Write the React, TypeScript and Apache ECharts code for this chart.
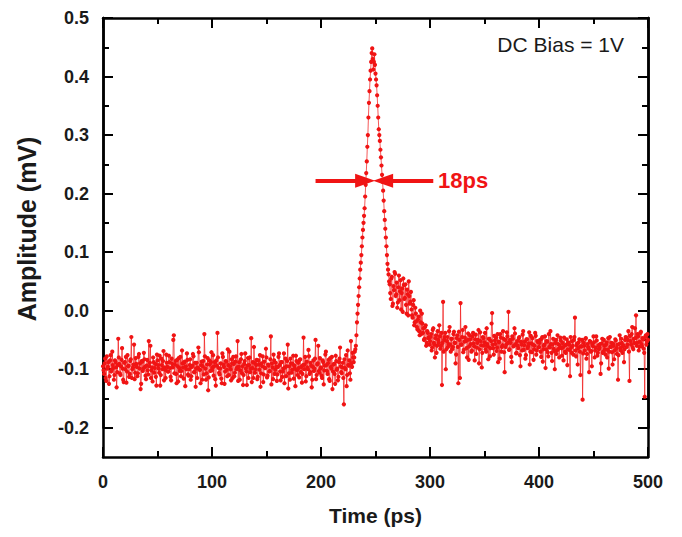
import React, { useEffect, useRef } from "react";
import * as echarts from "echarts";

// Sampling step of the recorded trace (ps): samples on whole ps and on half ps.
const TIME_STEP_PS = 1;
const HALF_STEP_PS = 0.5;

// Amplitude at whole-ps samples (0..500 ps), in units of 0.001 mV
const amplitudeWhole: number[] = [
  // 0-19
  -95, -108, -82, -120, -99, -88, -112, -76, -101, -93, -118, -85, -97, -105, -48, -91, -110, -84, -99, -122,
  // 20-39
  -88, -79, -104, -95, -113, -86, -45, -100, -92, -117, -81, -96, -107, -74, -90, -125, -87, -99, -83, -111,
  // 40-59
  -94, -102, -52, -89, -115, -97, -80, -106, -91, -128, -85, -99, -77, -110, -93, -86, -119, -101, -75, -96,
  // 60-79
  -104, -88, -113, -82, -97, -42, -92, -108, -84, -121, -98, -79, -103, -90, -116, -87, -95, -73, -109, -100,
  // 80-99
  -83, -112, -94, -78, -105, -130, -89, -97, -71, -101, -93, -118, -86, -40, -99, -107, -81, -114, -92, -88,
  // 100-119
  -102, -76, -95, -117, -85, -38, -98, -109, -90, -124, -79, -96, -104, -87, -112, -93, -70, -100, -83, -115,
  // 120-139
  -91, -106, -78, -97, -120, -88, -102, -74, -95, -110, -86, -99, -127, -81, -93, -105, -47, -98, -115, -89,
  // 140-159
  -100, -84, -113, -92, -76, -107, -95, -122, -87, -98, -80, -111, -94, -103, -44, -90, -117, -85, -101, -96,
  // 160-179
  -109, -79, -93, -119, -88, -104, -73, -97, -112, -86, -133, -95, -82, -106, -91, -116, -99, -77, -102, -89,
  // 180-199
  -114, -83, -96, -108, -46, -92, -121, -87, -100, -78, -105, -94, -118, -85, -99, -50, -110, -90, -103, -81,
  // 200-219
  -97, -115, -88, -102, -75, -93, -108, -84, -120, -96, -79, -104, -91, -125, -86, -99, -113, -82, -95, -107,
  // 220-229
  -89, -160, -98, -76, -110, -93, -85, -118, -90, -72,
  // 230-239 (rise)
  -88, -70, -60, -20, 10, 40, 70, 95, 125, 150,
  // 240-249 (peak)
  175, 215, 255, 300, 355, 395, 425, 448, 412, 438,
  // 250-259 (fall)
  405, 385, 350, 310, 290, 262, 232, 205, 170, 140,
  // 260-262
  110, 80, 62,
  // 263-282 (shoulder)
  45, 20, 58, 12, 35, 63, 28, 5, 40, 18, 52, 30, -2, 44, 22, 10, 36, -8, 25, 15,
  // 283-299 (decay)
  2, -12, 18, -20, -5, -28, -15, -35, 0, -40, -22, -30, -48, -25, -55, -38, -45,
  // 300-319
  -52, -40, -63, -30, -58, -47, -72, -35, -55, -44, -60, -127, 15, -50, -38, -66, -45, -57, -28, -70,
  // 320-339
  -48, -62, -36, -55, -75, -42, -124, -50, 13, -58, -33, -67, -46, -52, -80, -39, -61, -49, -70, -44,
  // 340-359
  -56, -85, -41, -63, -50, -90, -37, -59, -72, -47, -54, -66, -30, -61, -48, -78, -52, -4, -64, -43,
  // 360-379
  -57, -69, -40, -53, -82, -46, -62, -35, -71, -50, -58, -44, -2, -66, -55, -88, -48, -60, -39, -73,
  // 380-399
  -52, -64, -45, -95, -58, -41, -67, -53, -76, -49, -61, -37, -70, -56, -47, -84, -60, -43, -68, -54,
  // 400-419
  -62, -50, -79, -45, -66, -58, -98, -52, -71, -40, -63, -57, -86, -48, -69, -55, -74, -42, -65, -59,
  // 420-439
  -51, -77, -63, -46, -70, -58, -93, -54, -67, -45, -72, -60, -50, -12, -78, -56, -64, -49, -110, -61,
  // 440-459
  -152, -55, -68, -47, -74, -62, -105, -53, -69, -58, -44, -80, -63, -51, -72, -66, -57, -90, -48, -70,
  // 460-479
  -60, -75, -54, -67, -99, -45, -62, -71, -56, -83, -49, -64, -58, -76, -42, -68, -55, -61, -88, -50,
  // 480-500
  -46, -58, -35, -120, -52, -40, -63, -48, -30, -8, -55, -44, -62, -38, -57, -47, -65, -147, -42, -53, -50,
];

// Amplitude at half-ps samples (0.5..499.5 ps), in units of 0.001 mV
const amplitudeHalf: number[] = [
  // 0.5-19.5
  -102, -90, -115, -78, -96, -125, -85, -104, -70, -98, -110, -88, -131, -93, -80, -107, -95, -64, -118, -89,
  // 20.5-39.5
  -100, -123, -76, -94, -108, -83, -115, -97, -58, -106, -91, -112, -79, -99, -134, -86, -103, -72, -96, -117,
  // 40.5-59.5
  -84, -109, -95, -60, -102, -121, -88, -98, -113, -75, -93, -106, -128, -82, -100, -69, -97, -115, -89, -104,
  // 60.5-79.5
  -77, -98, -119, -91, -50, -107, -86, -124, -95, -81, -103, -112, -68, -97, -89, -129, -100, -84, -111, -93,
  // 80.5-99.5
  -118, -96, -74, -105, -89, -99, -115, -63, -101, -124, -87, -95, -109, -78, -118, -92, -136, -85, -103, -71,
  // 100.5-119.5
  -97, -111, -88, -128, -94, -80, -106, -99, -116, -73, -92, -125, -86, -101, -66, -110, -95, -119, -90, -79,
  // 120.5-139.5
  -112, -87, -100, -52, -96, -118, -83, -107, -127, -91, -73, -104, -94, -115, -80, -99, -122, -88, -62, -106,
  // 140.5-159.5
  -93, -117, -85, -101, -130, -90, -78, -109, -98, -65, -114, -92, -104, -83, -126, -97, -75, -108, -89, -120,
  // 160.5-179.5
  -96, -73, -104, -88, -113, -99, -124, -82, -95, -58, -107, -118, -90, -101, -77, -94, -129, -86, -110, -98,
  // 180.5-199.5
  -84, -105, -123, -93, -100, -79, -112, -97, -67, -108, -89, -131, -96, -103, -82, -117, -92, -60, -106, -99,
  // 200.5-219.5
  -111, -85, -126, -94, -70, -103, -90, -117, -81, -99, -134, -92, -108, -77, -101, -119, -88, -63, -105, -97,
  // 220.5-229.5
  -115, -83, -100, -129, -68, -94, -107, -52, -96, -80,
  // 230.5-239.5 (rise)
  -80, -66, -42, -5, 25, 55, 82, 110, 138, 162,
  // 240.5-249.5 (peak)
  195, 235, 280, 330, 375, 410, 440, 430, 425, 420,
  // 250.5-259.5 (fall)
  395, 368, 330, 300, 275, 248, 220, 188, 155, 125,
  // 260.5-262.5
  95, 70, 50,
  // 263.5-282.5 (shoulder)
  30, 55, 8, 42, 66, 25, 48, 14, 60, 33, 2, 38, 55, 20, 45, -5, 28, 50, 12, 32,
  // 283.5-299.5 (decay)
  -8, 10, -25, 5, -18, -32, -10, -42, -20, -5, -38, -50, -28, -60, -35, -47, -58,
  // 300.5-319.5
  -45, -68, -33, -55, -80, -42, -60, -50, -25, -65, -38, -55, -70, -45, -100, -52, -62, -35, -58, -48,
  // 320.5-339.5
  -66, -40, -55, -90, -47, -62, -36, -115, -58, -45, -71, -53, -28, -64, -50, -84, -42, -57, -68, -38,
  // 340.5-359.5
  -61, -49, -74, -55, -33, -66, -52, -97, -45, -60, -38, -70, -57, -83, -48, -64, -22, -58, -75, -51,
  // 360.5-379.5
  -46, -63, -88, -54, -40, -70, -59, -48, -105, -62, -37, -55, -67, -50, -79, -44, -61, -30, -57, -72,
  // 380.5-399.5
  -60, -47, -76, -53, -68, -35, -59, -82, -49, -64, -56, -92, -43, -71, -58, -66, -38, -75, -52, -63,
  // 400.5-419.5
  -55, -70, -48, -87, -60, -44, -66, -53, -78, -62, -35, -72, -58, -65, -100, -50, -68, -57, -80, -46,
  // 420.5-439.5
  -64, -55, -85, -60, -72, -49, -66, -58, -112, -63, -52, -75, -45, -68, -59, -92, -54, -70, -61, -50,
  // 440.5-459.5
  -73, -60, -48, -82, -57, -65, -52, -70, -95, -61, -54, -68, -44, -77, -59, -63, -108, -56, -72, -50,
  // 460.5-479.5
  -66, -58, -80, -47, -70, -62, -55, -92, -60, -68, -51, -74, -118, -57, -64, -48, -72, -59, -66, -45,
  // 480.5-499.5
  -62, -50, -70, -43, -58, -28, -66, -55, -47, -60, -40, -68, -53, -36, -61, -49, -72, -45, -58, -40,
];

const xRange = [0, 500];
const yRange = [-0.25, 0.5];
// labelled part of the amplitude axis
const yLabelRange = [-0.2, 0.5];

// FWHM annotation (ps, mV)
const fwhmLevel = 0.222;
const fwhmLeftArrow = [195, 240.5];
const fwhmRightArrow = [303, 257];
const fwhmLabel = "18ps";
const biasLabel = "DC Bias = 1V";
const xTitle = "Time (ps)";
const yTitle = "Amplitude (mV)";

const FONT = "'Liberation Sans', Arial, Helvetica, sans-serif";
const RED = "#f01414";
const INK = "#1a1a1a";

export default function App() {
  const ref = useRef<HTMLDivElement>(null);
  useEffect(() => {
    if (!ref.current) return;
    const chart = echarts.init(ref.current, undefined, { renderer: "svg" });

    const data: number[][] = [];
    amplitudeWhole.forEach((v, i) => {
      data.push([i * TIME_STEP_PS, v / 1000]);
      if (i < amplitudeHalf.length) data.push([i * TIME_STEP_PS + HALF_STEP_PS, amplitudeHalf[i] / 1000]);
    });

    const H = 537;
    const gLeft = 103, gTop = 18, gRight = 34, gBottom = 80;
    const gH = H - gTop - gBottom;
    // second grid covers only the labelled range (-0.2 .. 0.5) so that ticks start on -0.2
    const g2Bottom = gBottom + (gH * (yLabelRange[0] - yRange[0])) / (yRange[1] - yRange[0]);

    const frame = { show: true, onZero: false, lineStyle: { color: "#000", width: 2.5 } };
    const tickStyle = { color: "#000", width: 2 };
    const xBase = {
      type: "value" as const,
      gridIndex: 0,
      min: xRange[0],
      max: xRange[1],
      interval: 100,
      splitLine: { show: false },
      axisLine: frame,
      axisTick: { show: true, inside: true, length: 10, lineStyle: tickStyle },
      minorTick: { show: true, splitNumber: 2, length: 6, lineStyle: tickStyle },
    };
    const yTickBase = {
      type: "value" as const,
      gridIndex: 1,
      min: yLabelRange[0],
      max: yLabelRange[1],
      interval: 0.1,
      splitLine: { show: false },
      axisLine: frame,
      axisTick: { show: true, inside: true, length: 10, lineStyle: tickStyle },
      minorTick: { show: true, splitNumber: 2, length: 6, lineStyle: tickStyle },
    };

    chart.setOption({
      animation: false,
      backgroundColor: "#fff",
      grid: [
        { left: gLeft, top: gTop, right: gRight, bottom: gBottom },
        { left: gLeft, top: gTop, right: gRight, bottom: g2Bottom },
      ],
      xAxis: [
        {
          ...xBase,
          position: "bottom",
          axisLabel: {
            show: true,
            margin: 16,
            fontFamily: FONT,
            fontWeight: "bold",
            fontSize: 18,
            color: INK,
          },
          name: xTitle,
          nameLocation: "middle",
          nameGap: 48,
          nameTextStyle: { fontFamily: FONT, fontWeight: "bold", fontSize: 21, color: INK },
        },
        { ...xBase, position: "top", axisLabel: { show: false } },
        { type: "value", gridIndex: 1, min: xRange[0], max: xRange[1], show: false },
      ],
      yAxis: [
        {
          type: "value",
          gridIndex: 0,
          min: yRange[0],
          max: yRange[1],
          interval: 0.05,
          position: "left",
          splitLine: { show: false },
          axisLine: frame,
          axisTick: { show: false },
          axisLabel: { show: false },
        },
        {
          type: "value",
          gridIndex: 0,
          min: yRange[0],
          max: yRange[1],
          interval: 0.05,
          position: "right",
          splitLine: { show: false },
          axisLine: frame,
          axisTick: { show: false },
          axisLabel: { show: false },
        },
        {
          ...yTickBase,
          position: "left",
          axisLabel: {
            show: true,
            formatter: (v: number) => v.toFixed(1),
            margin: 14,
            fontFamily: FONT,
            fontWeight: "bold",
            fontSize: 18,
            color: INK,
          },
        },
        { ...yTickBase, position: "right", axisLabel: { show: false } },
      ],
      series: [
        {
          type: "line",
          xAxisIndex: 0,
          yAxisIndex: 0,
          data,
          symbol: "circle",
          symbolSize: 4.2,
          showSymbol: true,
          showAllSymbol: true,
          itemStyle: { color: RED },
          lineStyle: { color: RED, width: 0.7 },
          silent: true,
          markLine: {
            silent: true,
            animation: false,
            symbolSize: [14, 20],
            label: { show: false },
            lineStyle: { color: RED, width: 4, type: "solid" },
            data: [
              [
                { coord: [fwhmLeftArrow[0], fwhmLevel], symbol: "none" },
                { coord: [fwhmLeftArrow[1], fwhmLevel], symbol: "triangle" },
              ],
              [
                { coord: [fwhmRightArrow[0], fwhmLevel], symbol: "none" },
                { coord: [fwhmRightArrow[1], fwhmLevel], symbol: "triangle" },
              ],
            ],
          },
        },
      ],
      graphic: [
        {
          type: "text",
          left: 438,
          top: 169,
          style: { text: fwhmLabel, fill: RED, font: `bold 22px ${FONT}` },
        },
        {
          type: "text",
          right: 58,
          top: 34,
          style: { text: biasLabel, fill: INK, font: `21px ${FONT}` },
        },
        {
          type: "text",
          x: 27,
          y: 229,
          rotation: Math.PI / 2,
          style: {
            text: yTitle,
            fill: INK,
            font: `bold 25px ${FONT}`,
            align: "center",
            verticalAlign: "middle",
          },
        },
      ],
    });
    return () => chart.dispose();
  }, []);

  return (
    <div
      ref={ref}
      style={{ position: "fixed", left: 0, top: 0, width: 682, height: 537, background: "#fff" }}
    />
  );
}
